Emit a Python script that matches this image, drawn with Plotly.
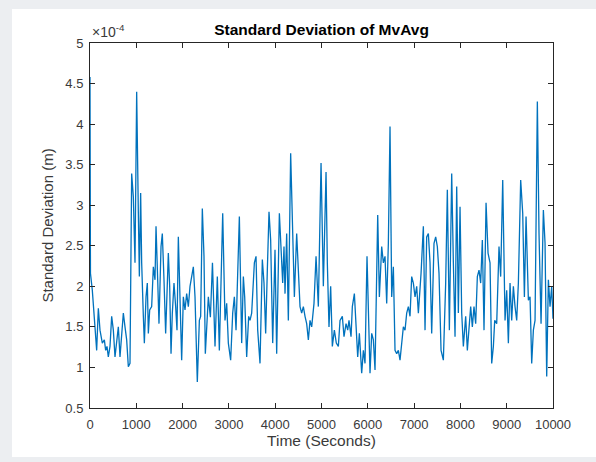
import plotly.graph_objects as go

# Moving-average standard deviation, values in units of 1e-4 m
time_s = [
    0, 10, 50, 94, 144, 180, 216, 266, 310, 338, 367, 396, 432, 468, 504, 540,
    576, 612, 648, 684, 720, 756, 792, 828, 864, 900, 936, 972, 1008, 1044,
    1066, 1094, 1116, 1152, 1174, 1210, 1238, 1260, 1289, 1332, 1368, 1404,
    1426, 1462, 1490, 1534, 1562, 1598, 1634, 1663, 1692, 1721, 1750, 1778,
    1814, 1850, 1879, 1908, 1944, 1980, 2016, 2052, 2088, 2124, 2160, 2196,
    2232, 2268, 2318, 2362, 2390, 2426, 2462, 2491, 2527, 2556, 2600, 2645,
    2700, 2750, 2794, 2866, 2916, 2952, 2988, 3038, 3082, 3118, 3154, 3226,
    3276, 3312, 3341, 3384, 3427, 3456, 3492, 3550, 3586, 3622, 3672, 3722,
    3758, 3794, 3830, 3866, 3902, 3946, 3996, 4032, 4090, 4126, 4162, 4190,
    4212, 4248, 4284, 4334, 4378, 4414, 4464, 4500, 4536, 4572, 4608, 4644,
    4680, 4716, 4752, 4788, 4838, 4882, 4932, 4990, 5040, 5098, 5126, 5162,
    5198, 5234, 5278, 5320, 5364, 5400, 5450, 5486, 5530, 5566, 5594, 5638,
    5666, 5710, 5746, 5782, 5818, 5868, 5904, 5940, 5983, 6019, 6048, 6084,
    6120, 6156, 6214, 6250, 6300, 6336, 6372, 6408, 6444, 6480, 6516, 6552,
    6588, 6624, 6660, 6696, 6732, 6768, 6804, 6840, 6876, 6912, 6948, 6984,
    7020, 7056, 7092, 7150, 7200, 7236, 7272, 7308, 7344, 7380, 7430, 7466,
    7502, 7538, 7582, 7632, 7682, 7718, 7762, 7812, 7848, 7884, 7920, 7956,
    7992, 8028, 8064, 8114, 8150, 8186, 8222, 8258, 8294, 8330, 8366, 8402,
    8438, 8474, 8510, 8554, 8597, 8640, 8676, 8712, 8741, 8784, 8834, 8870,
    8914, 8964, 9000, 9036, 9072, 9108, 9144, 9180, 9216, 9252, 9302, 9346,
    9382, 9418, 9468, 9504, 9540, 9576, 9612, 9662, 9698, 9742, 9792, 9828,
    9864, 9900, 9936, 9972, 10000,
]
std_dev_e4 = [
    4.58, 2.16, 1.95, 1.54, 1.21, 1.73, 1.46, 1.30, 1.34, 1.21, 1.26, 1.13,
    1.26, 1.63, 1.46, 1.13, 1.34, 1.50, 1.13, 1.46, 1.67, 1.50, 1.34, 1.01,
    1.05, 3.39, 3.10, 2.29, 4.40, 2.90, 2.12, 3.15, 2.29, 1.63, 1.30, 1.87,
    2.04, 1.42, 1.71, 1.75, 2.24, 2.08, 2.74, 2.08, 1.54, 2.49, 2.65, 2.08,
    1.42, 1.91, 2.41, 2.00, 1.17, 1.67, 2.04, 1.75, 1.46, 2.61, 1.95, 1.09,
    1.87, 1.71, 1.91, 1.75, 2.00, 2.12, 2.24, 1.87, 0.82, 1.58, 1.63, 2.96,
    2.37, 1.17, 1.54, 1.87, 1.62, 2.29, 1.26, 2.12, 1.21, 2.90, 1.58, 1.79,
    1.30, 1.09, 1.67, 1.87, 1.46, 2.86, 1.30, 2.12, 1.87, 1.13, 1.63, 1.58,
    1.67, 2.29, 2.37, 1.46, 1.05, 2.33, 2.04, 1.42, 2.20, 2.92, 2.57, 1.30,
    2.45, 1.17, 2.90, 2.37, 2.04, 2.49, 1.91, 2.65, 1.58, 3.64, 2.57, 1.87,
    2.65, 2.20, 1.75, 1.67, 1.75, 1.63, 1.54, 1.34, 1.58, 1.50, 1.79, 2.37,
    1.75, 3.52, 2.00, 3.41, 2.29, 1.50, 2.00, 1.26, 1.46, 1.30, 1.26, 1.58,
    1.63, 1.38, 1.54, 1.46, 1.58, 1.38, 1.75, 1.91, 1.46, 1.13, 1.42, 0.93,
    1.21, 1.05, 2.37, 1.67, 0.93, 1.42, 1.34, 0.97, 2.88, 1.87, 2.49, 2.29,
    2.37, 1.79, 2.53, 3.97, 1.87, 2.24, 1.21, 1.17, 1.21, 1.09, 1.26, 1.50,
    1.46, 1.67, 1.75, 1.63, 2.12, 2.04, 1.87, 2.00, 1.67, 2.16, 2.74, 1.46,
    2.61, 2.65, 2.29, 1.42, 2.53, 2.61, 2.49, 2.16, 1.21, 1.09, 2.04, 3.19,
    1.46, 3.39, 2.29, 1.38, 3.23, 1.67, 2.98, 1.67, 1.26, 1.63, 1.21, 1.46,
    1.75, 1.50, 1.75, 1.54, 2.12, 2.20, 2.04, 2.57, 1.46, 3.03, 2.41, 2.29,
    1.05, 1.26, 1.58, 1.54, 2.49, 2.12, 3.31, 1.58, 1.95, 1.30, 2.04, 1.58,
    2.00, 1.75, 1.58, 2.04, 3.31, 2.90, 1.87, 2.86, 1.83, 1.87, 1.05, 1.46,
    1.58, 4.28, 2.65, 1.54, 2.94, 2.53, 0.89, 2.08, 1.75, 2.00, 1.60,
]

x_ticks = [0, 1000, 2000, 3000, 4000, 5000, 6000, 7000, 8000, 9000, 10000]
x_tick_text = ["0", "1000", "2000", "3000", "4000", "5000", "6000", "7000",
               "8000", "9000", "10000"]
y_ticks = [0.5, 1, 1.5, 2, 2.5, 3, 3.5, 4, 4.5, 5]
y_tick_text = ["0.5", "1", "1.5", "2", "2.5", "3", "3.5", "4", "4.5", "5"]

FONT = "Liberation Sans, Arial, sans-serif"
AXIS_COLOR = "#262626"
LABEL_COLOR = "#3a3a3a"

fig = go.Figure()
fig.add_trace(go.Scatter(
    x=time_s, y=std_dev_e4, mode="lines",
    line=dict(color="#0072BD", width=1.3),
    showlegend=False,
))

axis_common = dict(
    showline=True, linecolor=AXIS_COLOR, linewidth=1,
    mirror="ticks", ticks="inside", ticklen=5, tickcolor=AXIS_COLOR,
    showgrid=False, zeroline=False,
    tickfont=dict(family=FONT, size=13, color=LABEL_COLOR),
)

fig.update_layout(
    width=596, height=462,
    margin=dict(l=90, r=43, t=43, b=54),
    paper_bgcolor="#eceef1",
    plot_bgcolor="white",
    font=dict(family=FONT, color=AXIS_COLOR),
    title=dict(
        text="<b>Standard Deviation of MvAvg</b>",
        x=(90 + 553) / 2 / 596, xanchor="center",
        y=1 - 30 / 462, yanchor="middle",
        font=dict(family=FONT, size=15.5, color="black"),
    ),
    xaxis=dict(
        range=[0, 10000], tickvals=x_ticks, ticktext=x_tick_text,
        ticklabelstandoff=4,
        title=dict(text="Time (Seconds)", standoff=4,
                   font=dict(family=FONT, size=15.5, color=LABEL_COLOR)),
        **axis_common,
    ),
    yaxis=dict(
        range=[0.5, 5], tickvals=y_ticks, ticktext=y_tick_text,
        ticklabelstandoff=3,
        title=dict(text="Standard Deviation (m)", standoff=8,
                   font=dict(family=FONT, size=15, color=LABEL_COLOR)),
        **axis_common,
    ),
    shapes=[
        # white figure panel behind the axes
        dict(type="rect", xref="paper", yref="paper", layer="below",
             x0=(12 - 90) / 463, x1=(600 - 90) / 463,
             y0=(408 - 457) / 365, y1=(408 - 9) / 365,
             fillcolor="white", line=dict(width=0)),
    ],
    annotations=[
        dict(text="×10<sup>-4</sup>", xref="paper", yref="paper",
             x=0.0, y=1.0, xanchor="left", yanchor="bottom", yshift=1,
             showarrow=False,
             font=dict(family=FONT, size=14, color=LABEL_COLOR)),
    ],
)

fig.write_html("out.html")
